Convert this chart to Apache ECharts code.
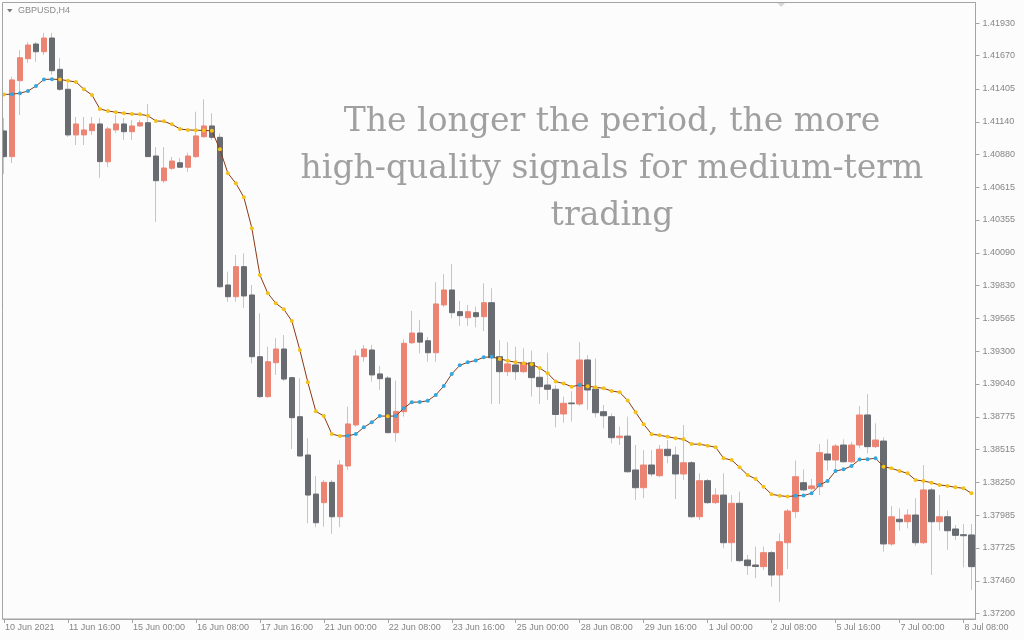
<!DOCTYPE html>
<html><head><meta charset="utf-8">
<script src="https://cdn.jsdelivr.net/npm/echarts@6/dist/echarts.min.js"></script>
<style>html,body{margin:0;padding:0;background:#fcfcfd;}#c{width:1024px;height:640px;}</style>
</head><body><div id="c"></div>
<script>
const xLabels = ['10 Jun 2021','11 Jun 16:00','15 Jun 00:00','16 Jun 08:00','17 Jun 16:00','21 Jun 00:00','22 Jun 08:00','23 Jun 16:00','25 Jun 00:00','28 Jun 08:00','29 Jun 16:00','1 Jul 00:00','2 Jul 08:00','5 Jul 16:00','7 Jul 00:00','8 Jul 08:00'];
const yTicks = [1.37200,1.37460,1.37725,1.37985,1.38250,1.38515,1.38775,1.39040,1.39300,1.39565,1.39830,1.40090,1.40355,1.40615,1.40880,1.41140,1.41405,1.41670,1.41930];

const open = [1.41067,1.40861,1.41470,1.41646,1.41764,1.41702,1.41812,1.41561,1.41401,1.41035,
1.41035,1.41069,1.41123,1.40820,1.41075,1.41123,1.41061,1.41107,1.41133,1.40866,
1.40668,1.40768,1.40812,1.40776,1.40861,1.41021,1.41107,1.41016,1.39832,1.39738,
1.39979,1.39752,1.39257,1.38937,1.39209,1.39319,1.39089,1.38776,1.38469,1.38156,
1.38087,1.38250,1.37974,1.38381,1.38710,1.39257,1.39311,1.39119,1.39086,1.38648,
1.38816,1.39369,1.39447,1.39385,1.39289,1.39672,1.39792,1.39618,1.39570,1.39610,
1.39578,1.39690,1.39257,1.39137,1.39191,1.39137,1.39209,1.39092,1.39030,1.38996,
1.38798,1.38886,1.38878,1.39231,1.38998,1.38816,1.38776,1.38608,1.38621,1.38349,
1.38207,1.38389,1.38303,1.38515,1.38469,1.38317,1.38407,1.37974,1.38263,1.38087,
1.38148,1.37766,1.38082,1.37627,1.37587,1.37574,1.37686,1.37507,1.37766,1.38015,
1.38247,1.38199,1.38215,1.38477,1.38429,1.38549,1.38415,1.38549,1.38790,1.38536,
1.38581,1.37756,1.37954,1.37934,1.37988,1.37766,1.38189,1.37934,1.37974,1.37876,
1.37830,1.37828];
const high = [1.41171,1.41500,1.41716,1.41780,1.41780,1.41852,1.41852,1.41652,1.41451,1.41179,
1.41179,1.41179,1.41171,1.41099,1.41195,1.41171,1.41155,1.41155,1.41283,1.40938,
1.40938,1.40858,1.40850,1.40893,1.41221,1.41321,1.41209,1.41048,1.39939,1.40073,
1.40086,1.39832,1.39605,1.39337,1.39407,1.39431,1.39097,1.39084,1.38603,1.38301,
1.38269,1.38269,1.38429,1.38856,1.39311,1.39351,1.39351,1.39183,1.39102,1.39065,
1.39397,1.39624,1.39551,1.39415,1.39854,1.39920,1.40000,1.39704,1.39672,1.39658,
1.39846,1.39806,1.39391,1.39374,1.39337,1.39325,1.39305,1.39177,1.39289,1.39030,
1.38937,1.38982,1.39374,1.39271,1.39243,1.38870,1.38803,1.38696,1.38776,1.38549,
1.38509,1.38509,1.38549,1.38589,1.38536,1.38710,1.38421,1.38322,1.38277,1.38202,
1.38322,1.38148,1.38175,1.37667,1.37734,1.37734,1.37700,1.37841,1.38036,1.38425,
1.38354,1.38277,1.38557,1.38595,1.38557,1.38595,1.38576,1.38862,1.38958,1.38723,
1.38611,1.38060,1.38042,1.38034,1.38122,1.38389,1.38205,1.38148,1.38023,1.37908,
1.37916,1.37916];
const low = [1.40722,1.40810,1.41195,1.41612,1.41620,1.41676,1.41516,1.41387,1.41019,1.40954,
1.40954,1.41035,1.40690,1.40778,1.41051,1.40995,1.40995,1.41099,1.40858,1.40337,
1.40650,1.40754,1.40770,1.40738,1.40850,1.41011,1.40995,1.39808,1.39698,1.39698,
1.39648,1.39204,1.38926,1.38926,1.39111,1.39062,1.38517,1.38456,1.37922,1.37890,
1.37894,1.37836,1.37890,1.38349,1.38694,1.39217,1.39057,1.38990,1.38643,1.38576,
1.38776,1.39359,1.39284,1.39217,1.39217,1.39656,1.39565,1.39503,1.39503,1.39493,
1.39463,1.38878,1.38878,1.39102,1.39070,1.39127,1.38937,1.38878,1.38910,1.38691,
1.38728,1.38737,1.38862,1.38830,1.38771,1.38683,1.38563,1.38549,1.38325,1.38108,
1.38122,1.38295,1.38293,1.38403,1.38116,1.38269,1.37964,1.37948,1.38076,1.38076,
1.37721,1.37614,1.37611,1.37507,1.37481,1.37547,1.37413,1.37291,1.37555,1.37962,
1.38181,1.38189,1.38148,1.38343,1.38349,1.38405,1.38405,1.38523,1.38483,1.38525,
1.37694,1.37740,1.37862,1.37881,1.37740,1.37756,1.37507,1.37862,1.37708,1.37788,
1.37569,1.37387];
const close = [1.40861,1.41476,1.41654,1.41756,1.41702,1.41812,1.41550,1.41401,1.41035,1.41123,
1.41075,1.41123,1.40821,1.41083,1.41123,1.41061,1.41107,1.41133,1.40861,1.40668,
1.40770,1.40826,1.40776,1.40866,1.41027,1.41107,1.41016,1.39818,1.39738,1.39979,
1.39744,1.39257,1.38937,1.39217,1.39319,1.39078,1.38768,1.38461,1.38148,1.37926,
1.38250,1.37974,1.38389,1.38718,1.39263,1.39319,1.39111,1.39081,1.38648,1.38819,
1.39365,1.39447,1.39374,1.39289,1.39680,1.39792,1.39610,1.39586,1.39618,1.39578,
1.39690,1.39249,1.39137,1.39199,1.39137,1.39209,1.39089,1.39017,1.38996,1.38794,
1.38884,1.38880,1.39231,1.38990,1.38808,1.38784,1.38608,1.38621,1.38335,1.38207,
1.38389,1.38317,1.38515,1.38464,1.38317,1.38407,1.37974,1.38263,1.38087,1.38148,
1.37766,1.38082,1.37622,1.37582,1.37575,1.37686,1.37507,1.37774,1.38020,1.38295,
1.38189,1.38221,1.38488,1.38429,1.38541,1.38415,1.38549,1.38790,1.38536,1.38589,
1.37756,1.37974,1.37934,1.37988,1.37766,1.38189,1.37934,1.37974,1.37862,1.37825,
1.37822,1.37574];
const ma = [1.41359,1.41362,1.41369,1.41387,1.41427,1.41480,1.41482,1.41479,1.41470,1.41459,
1.41401,1.41355,1.41243,1.41227,1.41217,1.41209,1.41203,1.41200,1.41189,1.41147,
1.41144,1.41120,1.41083,1.41075,1.41073,1.41071,1.41068,1.40920,1.40728,1.40647,
1.40535,1.40287,1.39912,1.39765,1.39685,1.39637,1.39543,1.39311,1.39052,1.38819,
1.38782,1.38637,1.38621,1.38623,1.38637,1.38691,1.38731,1.38782,1.38780,1.38782,
1.38844,1.38892,1.38894,1.38904,1.38950,1.39022,1.39119,1.39188,1.39212,1.39227,
1.39252,1.39256,1.39239,1.39225,1.39212,1.39204,1.39196,1.39166,1.39124,1.39058,
1.39042,1.39017,1.39030,1.39021,1.39012,1.39004,1.38982,1.38972,1.38906,1.38811,
1.38716,1.38636,1.38627,1.38616,1.38603,1.38595,1.38557,1.38555,1.38544,1.38531,
1.38443,1.38429,1.38370,1.38309,1.38277,1.38215,1.38154,1.38143,1.38136,1.38142,
1.38144,1.38162,1.38229,1.38261,1.38341,1.38354,1.38381,1.38433,1.38435,1.38443,
1.38375,1.38362,1.38341,1.38322,1.38269,1.38261,1.38247,1.38229,1.38221,1.38210,
1.38202,1.38162];

const UP = '#ec8474', DOWN = '#686b70', WICK = '#c3c6ca', AXIS = '#a4a4a4', LBL = '#868686';
const cats = close.map((_, i) => i);
const candles = open.map((o, i) => [o, close[i], low[i], high[i]]);
const bodies = open.map((o, i) => [o, close[i], Math.min(o, close[i]), Math.max(o, close[i])]);

const chart = echarts.init(document.getElementById('c'), null, {renderer: 'canvas'});
chart.setOption({
  animation: false,
  backgroundColor: '#fcfcfd',
  grid: {left: -0.5, right: 48.5, top: 3, bottom: 21},
  xAxis: {
    type: 'category', data: cats, boundaryGap: true,
    axisLine: {show: true, lineStyle: {color: AXIS, width: 1}},
    axisTick: {show: true, interval: 7, alignWithLabel: true, length: 4, lineStyle: {color: AXIS}},
    axisLabel: {interval: 7, align: 'left', margin: 4, color: LBL, fontSize: 9,
      fontFamily: 'Liberation Sans', padding: [0, 0, 0, 1],
      formatter: (v, idx) => (idx % 8 === 0 && xLabels[idx / 8] !== undefined) ? xLabels[idx / 8] : ''},
    splitLine: {show: false}
  },
  yAxis: {
    type: 'value', position: 'right', min: 1.371543, max: 1.420927, scale: true,
    axisLine: {show: true, lineStyle: {color: AXIS, width: 1}},
    axisTick: {show: true, length: 4, lineStyle: {color: AXIS}, customValues: yTicks},
    axisLabel: {customValues: yTicks, margin: 7, color: LBL, fontSize: 9, fontFamily: 'Liberation Sans',
      formatter: v => v.toFixed(5)},
    splitLine: {show: false}
  },
  series: [
    {type: 'candlestick', name: 'wick', data: candles, barWidth: 0.2, silent: true,
      itemStyle: {color: WICK, color0: WICK, borderColor: WICK, borderColor0: WICK, borderWidth: 1}},
    {type: 'candlestick', name: 'body', data: bodies, barWidth: 6, silent: true,
      itemStyle: {color: UP, color0: DOWN, borderColor: UP, borderColor0: DOWN, borderWidth: 1}},
    {type: 'line', name: 'MA', data: ma, silent: true, z: 5,
      symbol: 'circle', symbolSize: 4, showSymbol: true, showAllSymbol: true,
      lineStyle: {color: '#8a3a14', width: 1},
      itemStyle: {borderWidth: 0, color: p => (p.dataIndex > 0 && ma[p.dataIndex] > ma[p.dataIndex - 1]) ? '#34a6de' : '#f2c21a'}}
  ],
  graphic: [
    {type: 'rect', z: 100, shape: {x: 0, y: 0, width: 2.5, height: 640}, style: {fill: '#fcfcfd'}},
    {type: 'rect', z: 101, shape: {x: 2.5, y: 2.5, width: 973, height: 616.5}, style: {fill: null, stroke: AXIS, lineWidth: 1}},
    {type: 'polygon', z: 101, shape: {points: [[7, 9], [12.5, 9], [9.75, 12.5]]}, style: {fill: '#7a7a7a'}},
    {type: 'text', z: 101, x: 18, y: 10.5, style: {text: 'GBPUSD,H4', fontSize: 9, fontFamily: 'Liberation Sans', fill: '#8a8a8a', verticalAlign: 'middle'}},
    {type: 'polygon', z: 101, shape: {points: [[777.5, 3], [785, 3], [781.25, 7]]}, style: {fill: '#d4d6d8'}},
    {type: 'text', z: 101, x: 612, y: 99, style: {
      text: 'The longer the period, the more\nhigh-quality signals for medium-term\ntrading',
      fontSize: 33, fontFamily: '"DejaVu Serif", serif', fill: '#a0a0a0',
      align: 'center', verticalAlign: 'top', lineHeight: 47}}
  ]
});
</script></body></html>
